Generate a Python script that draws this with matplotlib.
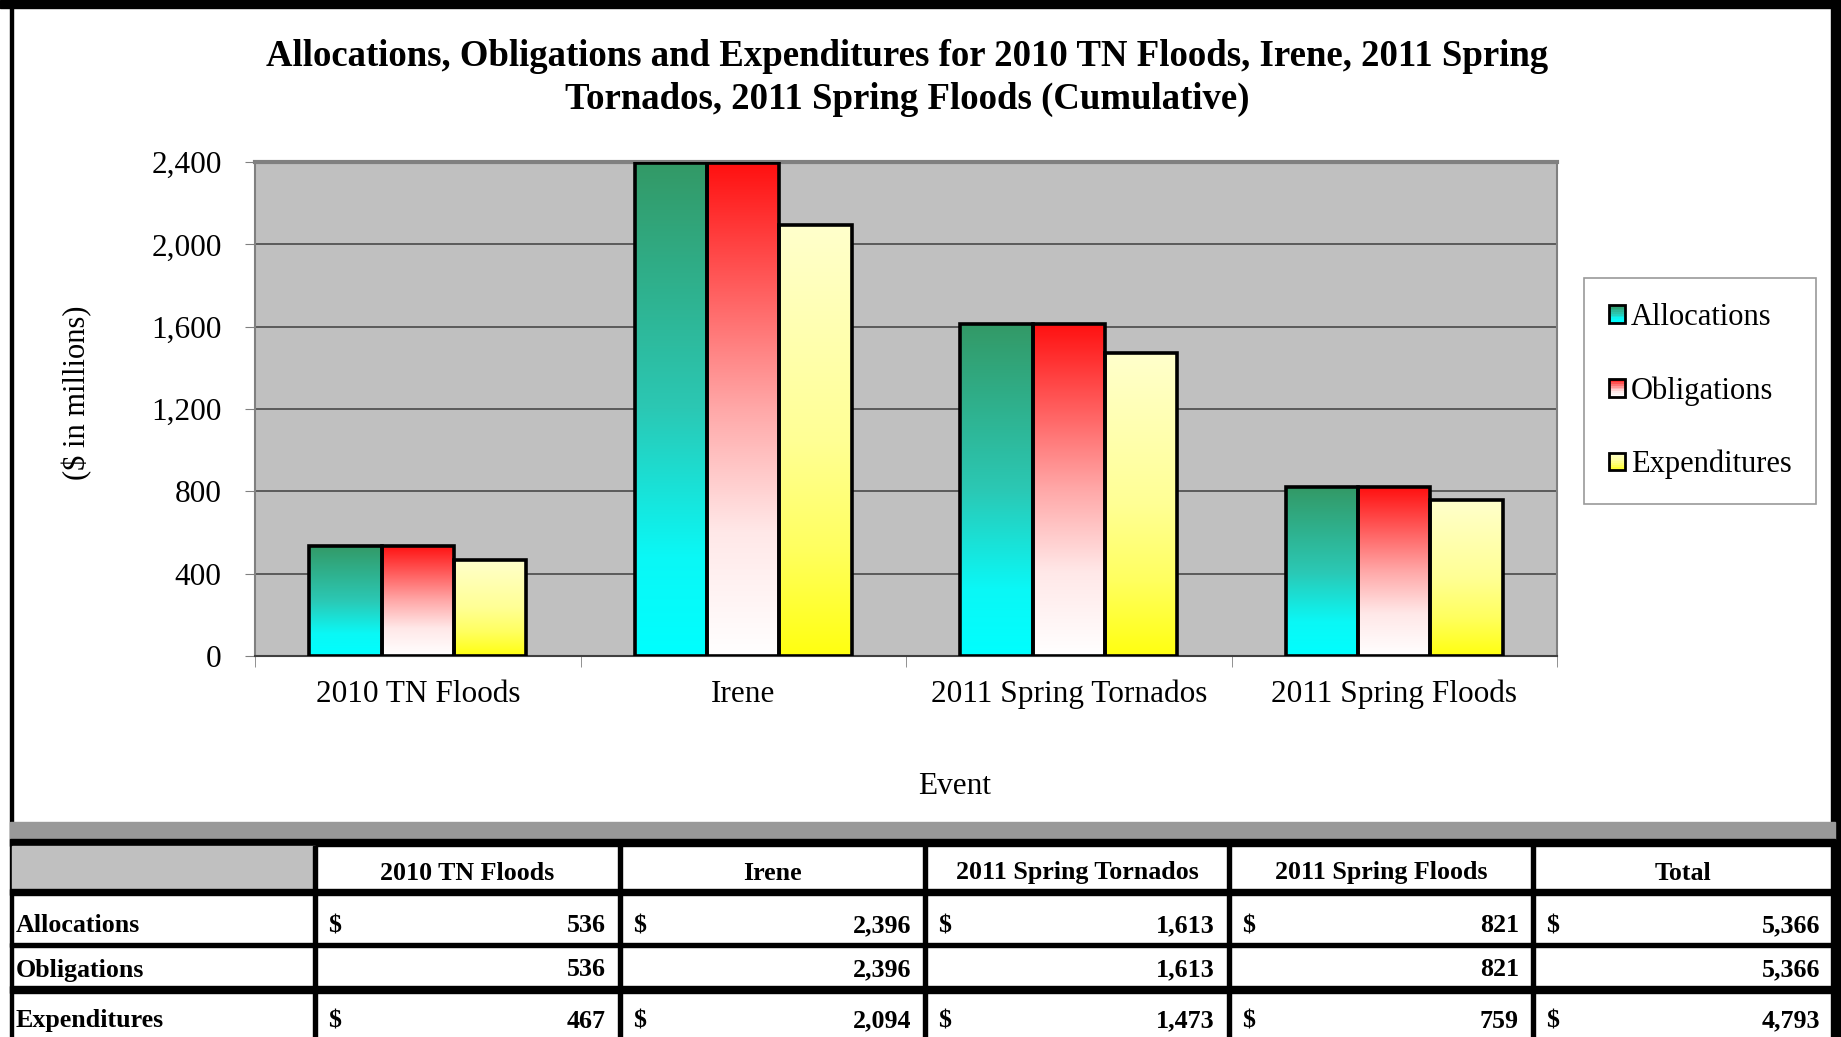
import numpy as np
import matplotlib
matplotlib.use("Agg")
import matplotlib.pyplot as plt
from matplotlib.patches import Rectangle
from matplotlib.legend_handler import HandlerBase
from matplotlib.colors import to_rgb

# data
events = ['2010 TN Floods', 'Irene', '2011 Spring Tornados', '2011 Spring Floods']
series = ['Allocations', 'Obligations', 'Expenditures']
allocations = [536, 2396, 1613, 821]
obligations = [536, 2396, 1613, 821]
expenditures = [467, 2094, 1473, 759]
totals = [5366, 5366, 4793]
yticks = [0, 400, 800, 1200, 1600, 2000, 2400]

# gradient stops from bar top (0) to bar bottom (1)
grads = [[(0, '#339966'), (0.5, '#2BC8B4'), (0.8, '#0AF8F6'), (1, '#00FFFF')],
         [(0, '#FF1010'), (0.5, '#FFA8A8'), (0.75, '#FFE8E8'), (1, '#FFFFFF')],
         [(0, '#FFFFCC'), (0.5, '#FFFF95'), (0.75, '#FFFF60'), (1, '#FFFF10')]]


def grad_colors(stops, n):
    t = np.linspace(0, 1, n)
    pos = [s[0] for s in stops]
    rgb = np.array([to_rgb(s[1]) for s in stops])
    return np.stack([np.interp(t, pos, rgb[:, c]) for c in range(3)], axis=1)


plt.rcParams['font.family'] = ['Liberation Serif', 'DejaVu Serif']

W, H = 1841, 1037
fig = plt.figure(figsize=(W/100, H/100), dpi=100)


def fx(x):
    return x / W


def fy(y):
    return 1 - y / H


ax = fig.add_axes([fx(255), fy(656), fx(1557) - fx(255), fy(162) - fy(656)])
ax.set_facecolor('#C0C0C0')

x = np.arange(len(events))
bw = 0.222
vals = [allocations, obligations, expenditures]
for i, (name, v) in enumerate(zip(series, vals)):
    bars = ax.bar(x + (i - 1) * bw, v, bw, facecolor='none', edgecolor='black',
                  linewidth=2.6, zorder=3, label=name)
    img = grad_colors(grads[i], 256)[:, None, :]
    for b in bars:
        ax.imshow(img, extent=[b.get_x(), b.get_x() + b.get_width(), 0, b.get_height()],
                  aspect='auto', origin='upper', interpolation='bilinear', zorder=2)

ax.set_xlim(-0.5, len(events) - 0.5)
ax.set_ylim(0, 2400)
ax.set_yticks(yticks)
ax.set_yticklabels([f'{v:,}' for v in yticks], fontsize=22.5)
ax.yaxis.grid(True, color='#404040', linewidth=1.1, zorder=1)
ax.set_axisbelow(True)
ax.set_xticks(x)
ax.set_xticklabels(events, fontsize=22.5)
ax.set_xticks(np.arange(-0.5, len(events)), minor=True)
ax.tick_params(axis='x', which='major', length=0, pad=17)
ax.tick_params(axis='x', which='minor', length=8, color='#808080')
ax.tick_params(axis='y', length=7, color='#808080', pad=17)
for s in ['top', 'right', 'left']:
    ax.spines[s].set_color('#808080')
    ax.spines[s].set_linewidth(1.5)
ax.spines['top'].set_linewidth(3)
ax.spines['bottom'].set_color('#404040')
ax.spines['bottom'].set_linewidth(1.5)


class GradHandler(HandlerBase):
    def __init__(self, stops):
        super().__init__()
        self.cols = grad_colors(stops, 10)

    def create_artists(self, legend, orig, xd, yd, width, height, fontsize, trans):
        arts = []
        n = len(self.cols)
        for k, c in enumerate(self.cols):
            arts.append(Rectangle((-xd, -yd + height * (n - 1 - k) / n), width, height / n,
                                  facecolor=c, edgecolor='none', transform=trans))
        arts.append(Rectangle((-xd, -yd), width, height, facecolor='none',
                              edgecolor='black', linewidth=2, transform=trans))
        return arts


handles = [Rectangle((0, 0), 1, 1) for _ in series]
leg = fig.legend(handles, series, loc='center', bbox_to_anchor=(fx(1700), fy(391)),
                 fontsize=22, frameon=True, fancybox=False, edgecolor='#808080',
                 handlelength=0.52, handleheight=0.52, handletextpad=0.2,
                 labelspacing=1.45, borderpad=0.8, borderaxespad=0,
                 handler_map={h: GradHandler(grads[i]) for i, h in enumerate(handles)})
leg.get_frame().set_linewidth(1.2)

fig.text(fx(907), fy(78), 'Allocations, Obligations and Expenditures for 2010 TN Floods, Irene, 2011 Spring\n'
         'Tornados, 2011 Spring Floods (Cumulative)', ha='center', va='center',
         fontsize=26.5, fontweight='bold', linespacing=1.28)
fig.text(fx(77), fy(393), '($ in millions)', rotation=90, ha='center', va='center', fontsize=22)
fig.text(fx(955), fy(786), 'Event', ha='center', va='center', fontsize=22.5)

# frame and table
tb = fig.add_axes([0, 0, 1, 1], zorder=-1)
tb.set_xlim(0, W)
tb.set_ylim(H, 0)
tb.axis('off')
tb.add_patch(Rectangle((0, 0), W, 8, color='black'))
tb.add_patch(Rectangle((1831, 0), 10, H, color='black'))
tb.add_patch(Rectangle((10, 0), 3, H, color='black'))
tb.add_patch(Rectangle((10, 822), 1825, 17, color='#999999'))
tb.add_patch(Rectangle((10, 839), 1825, 7, color='black'))
tb.add_patch(Rectangle((12, 846), 303, 43, color='#C0C0C0'))
for y0, h in [(889, 6), (943, 4), (986, 7)]:
    tb.add_patch(Rectangle((10, y0), 1825, h, color='black'))
col_edges = [315, 620, 925, 1229, 1533, 1834]
for cx in col_edges[:-1]:
    tb.add_patch(Rectangle((cx - 2, 846), 4, H - 846, color='black'))

heads = events + ['Total']
for j, hname in enumerate(heads):
    tb.text((col_edges[j] + col_edges[j + 1]) / 2, 873, hname, ha='center', va='center',
            fontsize=18.7, fontweight='bold')

row_y = [926, 970, 1021]
for r, (name, v) in enumerate(zip(series, vals)):
    tb.text(16, row_y[r], name, ha='left', va='center', fontsize=18.7, fontweight='bold')
    cells = list(v) + [totals[r]]
    for j, c in enumerate(cells):
        if r != 1:
            tb.text(col_edges[j] + 13, row_y[r], '$', ha='left', va='center',
                    fontsize=18.7, fontweight='bold')
        tb.text(col_edges[j + 1] - 14, row_y[r], f'{c:,}', ha='right', va='center',
                fontsize=18.7, fontweight='bold')

fig.savefig('out.png', dpi=100)
